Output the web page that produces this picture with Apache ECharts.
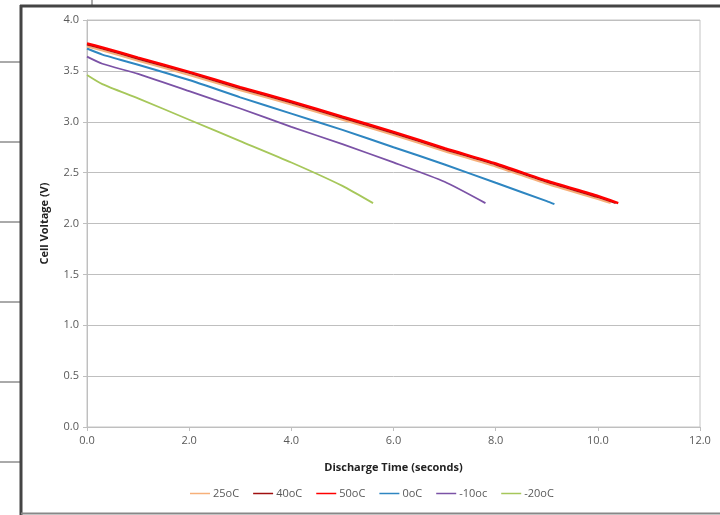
<!DOCTYPE html>
<html>
<head>
<meta charset="utf-8">
<script src="https://cdn.jsdelivr.net/npm/echarts@6/dist/echarts.min.js"></script>
<style>html,body{margin:0;padding:0;background:#fff;}#c{width:720px;height:515px;}</style>
</head>
<body>
<div id="c"></div>
<script>
const seriesNames = ['25oC', '40oC', '50oC', '0oC', '-10oc', '-20oC'];
const seriesColors = ['#F7B07A', '#A01010', '#FF0000', '#2E86C1', '#7B52A6', '#A6C75A'];

const t25 = [0, 0.3, 1, 2, 3, 4, 5, 6, 7, 8, 9, 10, 10.25];
const v25 = [3.74, 3.70, 3.60, 3.46, 3.31, 3.17, 3.02, 2.87, 2.71, 2.56, 2.39, 2.24, 2.20];
const t40 = [0, 0.3, 1, 2, 3, 4, 5, 6, 7, 8, 9, 10, 10.35];
const v40 = [3.76, 3.72, 3.62, 3.48, 3.33, 3.19, 3.04, 2.89, 2.73, 2.58, 2.41, 2.26, 2.20];
const t50 = [0, 0.3, 1, 2, 3, 4, 5, 6, 7, 8, 9, 10, 10.4];
const v50 = [3.77, 3.73, 3.63, 3.49, 3.34, 3.20, 3.05, 2.90, 2.74, 2.59, 2.42, 2.27, 2.20];
const t0 = [0, 0.3, 1, 2, 3, 4, 5, 6, 7, 8, 9, 9.15];
const v0 = [3.72, 3.66, 3.56, 3.41, 3.24, 3.08, 2.92, 2.75, 2.58, 2.40, 2.22, 2.19];
const tm10 = [0, 0.3, 1, 2, 3, 4, 5, 6, 7, 7.8];
const vm10 = [3.64, 3.57, 3.47, 3.30, 3.13, 2.95, 2.78, 2.60, 2.41, 2.20];
const tm20 = [0, 0.3, 1, 2, 3, 4, 5, 5.6];
const vm20 = [3.46, 3.37, 3.23, 3.02, 2.81, 2.60, 2.37, 2.20];

const xTicks = [0, 2, 4, 6, 8, 10, 12];
const yTicks = [0, 0.5, 1, 1.5, 2, 2.5, 3, 3.5, 4];

const times = [t25, t40, t50, t0, tm10, tm20];
const volts = [v25, v40, v50, v0, vm10, vm20];
const widths = [2, 2, 2.5, 2, 1.8, 1.8];
const zs = [3, 4, 5, 2, 1, 0];

const font = "'Open Sans', 'Liberation Sans', sans-serif";
const chart = echarts.init(document.getElementById('c'));

const series = seriesNames.map((n, i) => ({
  name: n,
  type: 'line',
  data: times[i].map((t, j) => [t, volts[i][j]]),
  showSymbol: false,
  smooth: 0.2,
  z: 2 + zs[i],
  lineStyle: { color: seriesColors[i], width: widths[i] },
  itemStyle: { color: seriesColors[i] }
}));

const frame = [];
[62, 142, 222, 302, 382, 462].forEach(y => frame.push({
  type: 'line', shape: { x1: 0, y1: y, x2: 20, y2: y }, style: { stroke: '#555', lineWidth: 1 }
}));
frame.push({ type: 'line', shape: { x1: 92, y1: 0, x2: 92, y2: 6 }, style: { stroke: '#555', lineWidth: 1 } });
frame.push({ type: 'line', shape: { x1: 20, y1: 6, x2: 720, y2: 6 }, style: { stroke: '#444', lineWidth: 3 } });
frame.push({ type: 'line', shape: { x1: 21, y1: 5, x2: 21, y2: 515 }, style: { stroke: '#444', lineWidth: 3 } });
frame.push({ type: 'line', shape: { x1: 21, y1: 513.5, x2: 720, y2: 513.5 }, style: { stroke: '#888', lineWidth: 2 } });

chart.setOption({
  animation: false,
  backgroundColor: '#fff',
  textStyle: { fontFamily: font },
  grid: { left: 87, right: 20, top: 20, bottom: 88, show: true, borderColor: '#c4c4c4', borderWidth: 1 },
  xAxis: {
    type: 'value', min: 0, max: 12, interval: 2,
    name: 'Discharge Time (seconds)', nameLocation: 'middle', nameGap: 35,
    nameTextStyle: { fontFamily: font, fontSize: 11, fontWeight: 'bold', color: '#222' },
    axisLine: { show: true, lineStyle: { color: '#bfbfbf' } },
    axisTick: { show: true, length: 4, lineStyle: { color: '#bfbfbf' } },
    axisLabel: { fontFamily: font, fontSize: 11, color: '#595959', margin: 8,
      formatter: v => xTicks.includes(v) ? v.toFixed(1) : '' },
    splitLine: { show: false }
  },
  yAxis: {
    type: 'value', min: 0, max: 4, interval: 0.5,
    name: 'Cell Voltage (V)', nameLocation: 'middle', nameGap: 37, nameRotate: 90,
    nameTextStyle: { fontFamily: font, fontSize: 11, fontWeight: 'bold', color: '#222' },
    axisLine: { show: true, lineStyle: { color: '#bfbfbf' } },
    axisTick: { show: true, length: 4, lineStyle: { color: '#bfbfbf' } },
    axisLabel: { fontFamily: font, fontSize: 11, color: '#595959', margin: 8,
      formatter: v => yTicks.includes(v) ? v.toFixed(1) : '' },
    splitLine: { show: true, lineStyle: { color: '#bfbfbf', width: 1 } }
  },
  legend: {
    data: seriesNames,
    bottom: 11, left: 185,
    icon: 'rect', itemWidth: 20, itemHeight: 1.5, itemGap: 14,
    textStyle: { fontFamily: font, fontSize: 11, color: '#595959', padding: [0, 0, 0, -2] }
  },
  graphic: frame,
  series: series
});
</script>
</body>
</html>
